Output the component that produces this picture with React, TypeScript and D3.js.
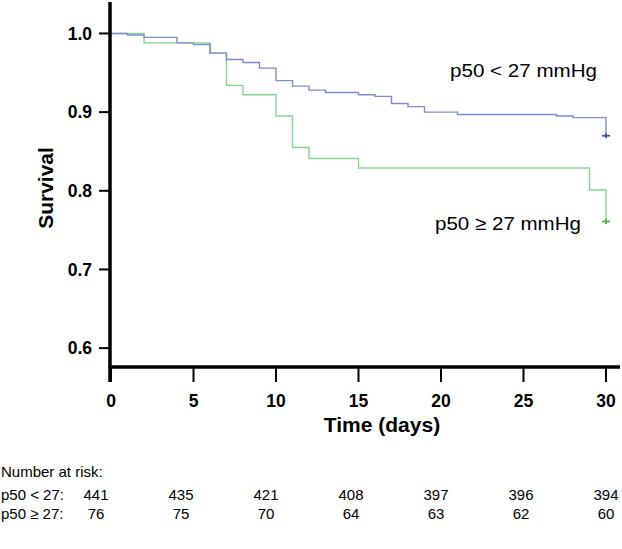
import React from "react";
import * as d3 from "d3";

const W = 622;
const H = 549;

// Kaplan-Meier step data (time in days, survival)
const lowTimes = [0, 1, 2, 4, 5, 6, 7, 8, 9, 10, 11, 12, 13, 15, 16, 17, 18, 19, 21, 27, 28, 30];
const lowSurv = [1.0, 0.998, 0.995, 0.988, 0.986, 0.975, 0.967, 0.963, 0.956, 0.94, 0.933, 0.928, 0.925, 0.922, 0.92, 0.911, 0.907, 0.9, 0.897, 0.895, 0.893, 0.87];
const highTimes = [0, 2, 6, 7, 8, 10, 11, 12, 15, 29, 30];
const highSurv = [1.0, 0.988, 0.975, 0.934, 0.922, 0.895, 0.855, 0.841, 0.829, 0.801, 0.761];

const xTicks = [0, 5, 10, 15, 20, 25, 30];
const yTicks = [0.6, 0.7, 0.8, 0.9, 1.0];

const riskTimes = ["0", "5", "10", "15", "20", "25", "30"];
const riskLow = [441, 435, 421, 408, 397, 396, 394];
const riskHigh = [76, 75, 70, 64, 63, 62, 60];
const riskRowLabels = ["p50 < 27:", "p50 \u2265 27:"];
const seriesLabels = ["p50 < 27 mmHg", "p50 \u2265 27 mmHg"];

const BLUE = "#7f8bd3";
const BLUE_DARK = "#3f52b8";
const GREEN = "#82d690";
const GREEN_DARK = "#3dba4e";

export default function App() {
  const x = d3.scaleLinear().domain([0, 30]).range([111, 606]);
  const y = d3.scaleLinear().domain([0.576, 1.04]).range([367, 2]);
  const line = d3
    .line<[number, number]>()
    .x((d) => x(d[0]))
    .y((d) => y(d[1]))
    .curve(d3.curveStepAfter);

  const lowPts: [number, number][] = lowTimes.map((t, i) => [t, lowSurv[i]]);
  const highPts: [number, number][] = highTimes.map((t, i) => [t, highSurv[i]]);

  const riskX = d3.scalePoint<string>().domain(riskTimes).range([96, 606]);

  const font = "'Liberation Sans', Arial, Helvetica, sans-serif";
  const lastLow = lowPts[lowPts.length - 1];
  const lastHigh = highPts[highPts.length - 1];

  const plus = (cx: number, cy: number, color: string) => (
    <g stroke={color} strokeWidth={1.8}>
      <line x1={cx - 4} x2={cx + 4} y1={cy} y2={cy} />
      <line x1={cx} x2={cx} y1={cy - 2.5} y2={cy + 2.5} />
    </g>
  );

  return (
    <div style={{ position: "absolute", left: 0, top: 0 }}>
      <svg width={W} height={H} style={{ display: "block", background: "#fff" }} fontFamily={font}>
        {/* curves */}
        <path d={line(highPts) || ""} fill="none" stroke={GREEN} strokeWidth={1.4} />
        <path d={line(lowPts) || ""} fill="none" stroke={BLUE} strokeWidth={1.4} />
        {plus(x(lastLow[0]), y(lastLow[1]), BLUE_DARK)}
        {plus(x(lastHigh[0]), y(lastHigh[1]), GREEN_DARK)}

        {/* axes */}
        <line x1={110} x2={110} y1={y(1.04)} y2={382} stroke="#000" strokeWidth={3.5} />
        <line x1={108.5} x2={620} y1={y(0.576)} y2={y(0.576)} stroke="#000" strokeWidth={3.5} />
        {yTicks.map((t) => (
          <g key={"y" + t}>
            <line x1={99} x2={110} y1={y(t)} y2={y(t)} stroke="#000" strokeWidth={2} />
            <text x={92} y={y(t)} dy="0.36em" textAnchor="end" fontSize={17.5} fontWeight="bold">
              {t.toFixed(1)}
            </text>
          </g>
        ))}
        {xTicks.map((t) => (
          <g key={"x" + t}>
            <line x1={x(t)} x2={x(t)} y1={y(0.576)} y2={382} stroke="#000" strokeWidth={2} />
            <text x={x(t)} y={406.5} textAnchor="middle" fontSize={17.5} fontWeight="bold">
              {t}
            </text>
          </g>
        ))}
        <text x={382} y={432} textAnchor="middle" fontSize={21} fontWeight="bold">
          Time (days)
        </text>
        <text transform="translate(53,188) rotate(-90)" textAnchor="middle" fontSize={21} fontWeight="bold">
          Survival
        </text>

        {/* series labels */}
        <text x={450} y={76.5} fontSize={19} textLength={147} lengthAdjust="spacingAndGlyphs">
          {seriesLabels[0]}
        </text>
        <text x={435} y={230} fontSize={19} textLength={146} lengthAdjust="spacingAndGlyphs">
          {seriesLabels[1]}
        </text>

        {/* number at risk */}
        <text x={1} y={477} fontSize={15}>
          Number at risk:
        </text>
        {[riskLow, riskHigh].map((row, ri) => (
          <g key={"r" + ri}>
            <text x={1} y={ri === 0 ? 500 : 519} fontSize={15}>
              {riskRowLabels[ri]}
            </text>
            {row.map((v, i) => (
              <text key={i} x={riskX(riskTimes[i])} y={ri === 0 ? 500 : 519} textAnchor="middle" fontSize={15}>
                {v}
              </text>
            ))}
          </g>
        ))}
      </svg>
    </div>
  );
}
